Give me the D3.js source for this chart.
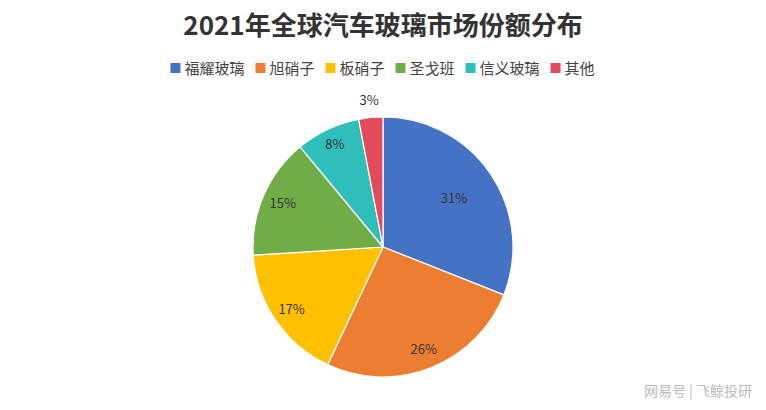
<!DOCTYPE html><html><head><meta charset="utf-8">
<script src="https://cdn.jsdelivr.net/npm/d3@7"></script>
<style>body{margin:0;background:#fff}</style></head><body><svg id="c" width="766" height="410"></svg>
<script>
const categories=["福耀玻璃","旭硝子","板硝子","圣戈班","信义玻璃","其他"];
const values=[31,26,17,15,8,3];
const colors=["#4472C4","#ED7D31","#FFC000","#70AD47","#2FBFBA","#E34A5C"];
const svg=d3.select("#c");
const font="'Noto Sans CJK SC',sans-serif";
svg.append("text").attr("x",383).attr("y",35).attr("text-anchor","middle")
  .attr("font-family",font).attr("font-weight","bold").attr("font-size",26).attr("fill","#333")
  .text("2021年全球汽车玻璃市场份额分布");
const lg=svg.append("g").attr("font-family",font).attr("font-size",15).attr("fill","#444");
const tmp=svg.append("text").attr("font-family",font).attr("font-size",15);
const widths=categories.map(c=>{tmp.text(c);return tmp.node().getComputedTextLength();});
tmp.remove();
const items=widths.map(w=>11+4+w+10);
const total=d3.sum(items)-10;
let x=383-total/2;
categories.forEach((c,i)=>{
  lg.append("rect").attr("x",x).attr("y",63).attr("width",10).attr("height",10).attr("fill",colors[i]);
  lg.append("text").attr("x",x+14).attr("y",74).attr("fill","#444").text(c);
  x+=items[i];
});
const cx=383,cy=247,R=130;
const pie=d3.pie().sort(null).value(d=>d)(values);
const arc=d3.arc().innerRadius(0).outerRadius(R);
const g=svg.append("g").attr("transform",`translate(${cx},${cy})`);
g.selectAll("path").data(pie).join("path").attr("d",arc).attr("fill",(d,i)=>colors[i])
  .attr("stroke","#fff").attr("stroke-width",1.2);
const labelR=[0.66,0.85,0.85,0.84,0.87,1.13];
g.selectAll("text").data(pie).join("text")
  .attr("transform",(d,i)=>{const r=R*labelR[i];return `translate(${d3.arc().innerRadius(r).outerRadius(r).centroid(d)})`;})
  .attr("text-anchor","middle").attr("dy","0.35em")
  .attr("font-family",font).attr("font-size",13).attr("fill","#333")
  .text(d=>d.data+"%");
svg.append("text").attr("x",752).attr("y",396).attr("text-anchor","end")
  .attr("font-family",font).attr("font-size",14).attr("fill","#bbb").text("网易号 | 飞鲸投研");
</script></body></html>
